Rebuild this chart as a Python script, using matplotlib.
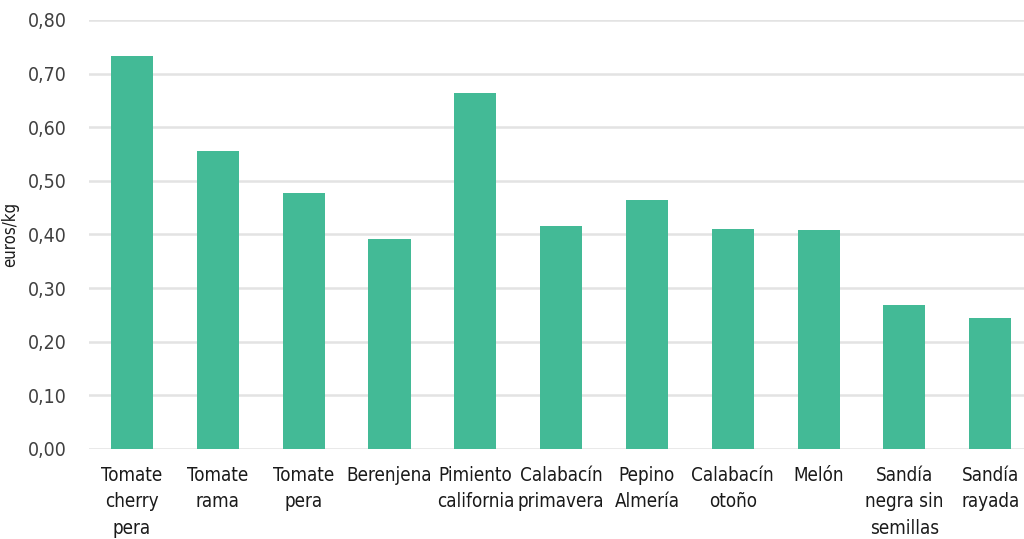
import matplotlib.pyplot as plt
from matplotlib.ticker import FuncFormatter

# Datos: precio medio (euros/kg)
productos = ["Tomate\ncherry\npera", "Tomate\nrama", "Tomate\npera", "Berenjena",
             "Pimiento\ncalifornia", "Calabacín\nprimavera", "Pepino\nAlmería",
             "Calabacín\notoño", "Melón", "Sandía\nnegra sin\nsemillas", "Sandía\nrayada"]
precios = [0.733, 0.556, 0.477, 0.392, 0.664, 0.416, 0.464, 0.410, 0.408, 0.269, 0.244]
yticks = [0.0, 0.1, 0.2, 0.3, 0.4, 0.5, 0.6, 0.7, 0.8]

# fuente estrecha, parecida a la del original
plt.rcParams['font.family'] = ['DejaVu Sans']
plt.rcParams['font.stretch'] = 'condensed'

fig = plt.figure(figsize=(10.24, 5.39), dpi=100)
ax = fig.add_axes([0.087, 0.167, 0.922, 0.796])

x = range(len(productos))
ax.bar(x, precios, width=0.49, color='#43BA96', zorder=3)

ax.set_xlim(-0.5, len(productos) - 0.5)
ax.set_ylim(0, 0.8)
ax.set_yticks(yticks)
ax.yaxis.set_major_formatter(FuncFormatter(lambda v, p: f"{v:.2f}".replace('.', ',')))
ax.set_xticks(list(x))
ax.set_xticklabels(productos, fontsize=13.5, color='#1a1a1a', linespacing=1.5)
ax.tick_params(axis='y', labelsize=14, labelcolor='#404040', length=0, pad=16)
ax.tick_params(axis='x', length=0, pad=12)
ax.set_ylabel("euros/kg", fontsize=12, color='#1a1a1a', labelpad=6)

ax.grid(axis='y', color='#e3e3e3', linewidth=1.8, zorder=0)
for s in ax.spines.values():
    s.set_visible(False)

fig.savefig("out.png", dpi=100)
